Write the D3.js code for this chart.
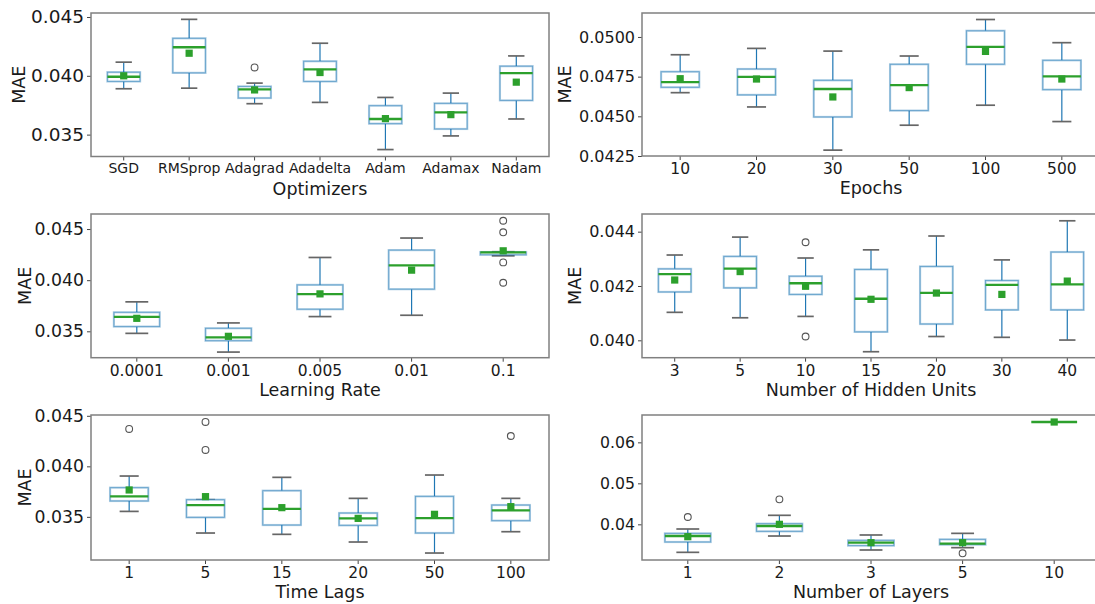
<!DOCTYPE html>
<html>
<head>
<meta charset="utf-8">
<script src="https://cdn.jsdelivr.net/npm/d3@7"></script>
<style>
  body { margin: 0; background: #fff; }
  svg { display: block; font-family: "DejaVu Sans", sans-serif; }
</style>
</head>
<body>
<div class="fig"></div>
<script>
// each stats row: [low whisker, q1, median, q3, high whisker, mean]
const optimizers = ['SGD', 'RMSprop', 'Adagrad', 'Adadelta', 'Adam', 'Adamax', 'Nadam']
const optimizerStats = [
    [0.03890, 0.03952, 0.03992, 0.04031, 0.04116, 0.04000],
    [0.03895, 0.04025, 0.04243, 0.04319, 0.04480, 0.04192],
    [0.03763, 0.03811, 0.03884, 0.03910, 0.03938, 0.03880],
    [0.03774, 0.03952, 0.04054, 0.04124, 0.04277, 0.04028],
    [0.03373, 0.03593, 0.03633, 0.03746, 0.03816, 0.03636],
    [0.03489, 0.03548, 0.03689, 0.03766, 0.03853, 0.03670],
    [0.03633, 0.03791, 0.04023, 0.04082, 0.04169, 0.03946]
]
const optimizerFliers = [[], [], [0.04071], [], [], [], []]
const optimizerTicks = [0.035, 0.040, 0.045]

const epochs = ['10', '20', '30', '50', '100', '500']
const epochStats = [
    [0.04649, 0.04683, 0.04716, 0.04781, 0.04888, 0.04737],
    [0.04559, 0.04635, 0.04748, 0.04798, 0.04928, 0.04735],
    [0.04287, 0.04496, 0.04672, 0.04727, 0.04911, 0.04622],
    [0.04444, 0.04536, 0.04696, 0.04828, 0.04880, 0.04681],
    [0.04570, 0.04828, 0.04937, 0.05039, 0.05110, 0.04909],
    [0.04467, 0.04668, 0.04752, 0.04853, 0.04964, 0.04735]
]
const epochFliers = [[], [], [], [], [], []]
const epochTicks = [0.0425, 0.0450, 0.0475, 0.0500]

const learningRates = ['0.0001', '0.001', '0.005', '0.01', '0.1']
const learningRateStats = [
    [0.03480, 0.03546, 0.03641, 0.03686, 0.03788, 0.03627],
    [0.03297, 0.03408, 0.03441, 0.03530, 0.03582, 0.03451],
    [0.03644, 0.03716, 0.03863, 0.03954, 0.04222, 0.03866],
    [0.03657, 0.03912, 0.04144, 0.04294, 0.04412, 0.04098],
    [0.04238, 0.04248, 0.04272, 0.04275, 0.04278, 0.04287]
]
const learningRateFliers = [[], [], [], [], [0.04581, 0.04468, 0.04174, 0.03975]]
const learningRateTicks = [0.035, 0.040, 0.045]

const hiddenUnits = ['3', '5', '10', '15', '20', '30', '40']
const hiddenUnitStats = [
    [0.04103, 0.04178, 0.04244, 0.04263, 0.04314, 0.04222],
    [0.04083, 0.04193, 0.04264, 0.04309, 0.04380, 0.04253],
    [0.04088, 0.04169, 0.04210, 0.04236, 0.04303, 0.04199],
    [0.03958, 0.04031, 0.04153, 0.04261, 0.04333, 0.04151],
    [0.04014, 0.04060, 0.04175, 0.04272, 0.04384, 0.04174],
    [0.04011, 0.04112, 0.04204, 0.04220, 0.04296, 0.04169],
    [0.04001, 0.04112, 0.04206, 0.04325, 0.04440, 0.04218]
]
const hiddenUnitFliers = [[], [], [0.04361, 0.04014], [], [], [], []]
const hiddenUnitTicks = [0.040, 0.042, 0.044]

const timeLags = ['1', '5', '15', '20', '50', '100']
const timeLagStats = [
    [0.03554, 0.03657, 0.03703, 0.03789, 0.03904, 0.03766],
    [0.03340, 0.03495, 0.03617, 0.03670, 0.03670, 0.03700],
    [0.03327, 0.03419, 0.03578, 0.03759, 0.03891, 0.03591],
    [0.03251, 0.03416, 0.03485, 0.03538, 0.03683, 0.03485],
    [0.03142, 0.03340, 0.03488, 0.03703, 0.03914, 0.03525],
    [0.03353, 0.03462, 0.03564, 0.03617, 0.03683, 0.03601]
]
const timeLagFliers = [[0.04370], [0.04439, 0.04162], [], [], [], [0.04300]]
const timeLagTicks = [0.035, 0.040, 0.045]

const layers = ['1', '2', '3', '5', '10']
const layerStats = [
    [0.03317, 0.03569, 0.03715, 0.03780, 0.03886, 0.03699],
    [0.03715, 0.03829, 0.03959, 0.04016, 0.04220, 0.04000],
    [0.03374, 0.03480, 0.03553, 0.03610, 0.03740, 0.03553],
    [0.03431, 0.03504, 0.03528, 0.03634, 0.03780, 0.03553],
    [0.06496, 0.06496, 0.06496, 0.06496, 0.06496, 0.06496]
]
const layerFliers = [[0.04179], [0.04610], [], [0.03293], []]
const layerTicks = [0.04, 0.05, 0.06]

const blue = '#1f77b4'
const green = '#2ca02c'

const svg = d3.select('.fig')
    .append('svg')
    .attr('width', 1095)
    .attr('height', 604)

const panels = [
    { cats: optimizers, stats: optimizerStats, fliers: optimizerFliers, ticks: optimizerTicks, fmt: '.3f',
      x0: 91, x1: 549, y0: 13, y1: 156.5, domain: [0.03314, 0.04534], xlabel: 'Optimizers', ylabel: 'MAE', ylx: 19,
      yfont: 18.5, xfont: 14 },
    { cats: epochs, stats: epochStats, fliers: epochFliers, ticks: epochTicks, fmt: '.4f',
      x0: 642, x1: 1100, y0: 13, y1: 156, domain: [0.0425, 0.05151], xlabel: 'Epochs', ylabel: 'MAE', ylx: 565,
      yfont: 16, xfont: 15.5 },
    { cats: learningRates, stats: learningRateStats, fliers: learningRateFliers, ticks: learningRateTicks, fmt: '.3f',
      x0: 91, x1: 549, y0: 214, y1: 357.7, domain: [0.03242, 0.04647], xlabel: 'Learning Rate', ylabel: 'MAE', ylx: 25,
      yfont: 17.3, xfont: 15.5 },
    { cats: hiddenUnits, stats: hiddenUnitStats, fliers: hiddenUnitFliers, ticks: hiddenUnitTicks, fmt: '.3f',
      x0: 642, x1: 1100, y0: 214, y1: 357.7, domain: [0.03936, 0.04465], xlabel: 'Number of Hidden Units', ylabel: 'MAE', ylx: 575,
      yfont: 16, xfont: 15.5 },
    { cats: timeLags, stats: timeLagStats, fliers: timeLagFliers, ticks: timeLagTicks, fmt: '.3f',
      x0: 91, x1: 549, y0: 415, y1: 560, domain: [0.03073, 0.04508], xlabel: 'Time Lags', ylabel: 'MAE', ylx: 25,
      yfont: 17.3, xfont: 15.5 },
    { cats: layers, stats: layerStats, fliers: layerFliers, ticks: layerTicks, fmt: '.2f',
      x0: 642, x1: 1100, y0: 415, y1: 560, domain: [0.0313, 0.06667], xlabel: 'Number of Layers', ylabel: null, ylx: 0,
      yfont: 15.7, xfont: 15.5 }
]

panels.forEach(drawPanel)

function drawPanel(p) {
    const xScale = d3.scaleBand().domain(p.cats).range([p.x0, p.x1])
    const yScale = d3.scaleLinear().domain(p.domain).range([p.y1, p.y0])
    const bw = xScale.bandwidth() * 0.5
    const cx = (c) => xScale(c) + xScale.bandwidth() / 2

    const g = svg.append('g')

    // axes
    const xAxis = d3.axisBottom(xScale).tickSize(4).tickPadding(3)
    const yAxis = d3.axisLeft(yScale).tickValues(p.ticks).tickFormat(d3.format(p.fmt)).tickSize(4).tickPadding(3)

    const gx = g.append('g').attr('transform', `translate(0, ${p.y1})`).call(xAxis)
    gx.selectAll('text').style('font-size', p.xfont + 'px').attr('fill', '#1a1a1a')
    const gy = g.append('g').attr('transform', `translate(${p.x0}, 0)`).call(yAxis)
    gy.selectAll('text').style('font-size', p.yfont + 'px').attr('fill', '#1a1a1a')
    g.selectAll('.domain').remove()
    g.selectAll('.tick line').attr('stroke', '#444').attr('stroke-width', 1)
    g.selectAll('.tick text').attr('font-family', '"DejaVu Sans", sans-serif')

    g.append('text')
        .attr('x', (p.x0 + p.x1) / 2)
        .attr('y', p.y1 + 38)
        .attr('text-anchor', 'middle')
        .style('font-size', '17.5px')
        .attr('fill', '#1a1a1a')
        .text(p.xlabel)

    if (p.ylabel) {
        g.append('text')
            .attr('transform', `translate(${p.ylx + 6}, ${(p.y0 + p.y1) / 2}) rotate(-90)`)
            .attr('text-anchor', 'middle')
            .style('font-size', '17.5px')
            .attr('fill', '#1a1a1a')
            .text(p.ylabel)
    }

    const boxes = g.selectAll('.box')
        .data(p.cats.map((c, i) => ({ cat: c, s: p.stats[i], fl: p.fliers[i] })))
        .enter()
        .append('g')

    // whiskers
    boxes.append('line')
        .attr('x1', (d) => cx(d.cat)).attr('x2', (d) => cx(d.cat))
        .attr('y1', (d) => yScale(d.s[0])).attr('y2', (d) => yScale(d.s[1]))
        .attr('stroke', blue).attr('stroke-width', 1.2)
    boxes.append('line')
        .attr('x1', (d) => cx(d.cat)).attr('x2', (d) => cx(d.cat))
        .attr('y1', (d) => yScale(d.s[3])).attr('y2', (d) => yScale(d.s[4]))
        .attr('stroke', blue).attr('stroke-width', 1.2)

    // caps
    boxes.selectAll('.cap')
        .data((d) => [[d.cat, d.s[0]], [d.cat, d.s[4]]])
        .enter()
        .append('line')
        .attr('x1', (d) => cx(d[0]) - bw / 4).attr('x2', (d) => cx(d[0]) + bw / 4)
        .attr('y1', (d) => yScale(d[1])).attr('y2', (d) => yScale(d[1]))
        .attr('stroke', '#666').attr('stroke-width', 1.7)

    // box body
    boxes.append('rect')
        .attr('x', (d) => cx(d.cat) - bw / 2)
        .attr('y', (d) => yScale(d.s[3]))
        .attr('width', bw)
        .attr('height', (d) => yScale(d.s[1]) - yScale(d.s[3]))
        .attr('fill', '#fff')
        .attr('stroke', blue)
        .attr('stroke-opacity', 0.35)
        .attr('stroke-width', 2.2)
    boxes.append('rect')
        .attr('x', (d) => cx(d.cat) - bw / 2)
        .attr('y', (d) => yScale(d.s[3]))
        .attr('width', bw)
        .attr('height', (d) => yScale(d.s[1]) - yScale(d.s[3]))
        .attr('fill', 'none')
        .attr('stroke', blue)
        .attr('stroke-opacity', 0.55)
        .attr('stroke-width', 0.8)

    // median
    boxes.append('line')
        .attr('x1', (d) => cx(d.cat) - bw / 2).attr('x2', (d) => cx(d.cat) + bw / 2)
        .attr('y1', (d) => yScale(d.s[2])).attr('y2', (d) => yScale(d.s[2]))
        .attr('stroke', green).attr('stroke-width', 2.3)

    // mean marker
    boxes.append('rect')
        .attr('x', (d) => cx(d.cat) - 3.6)
        .attr('y', (d) => yScale(d.s[5]) - 3.6)
        .attr('width', 7.2).attr('height', 7.2)
        .attr('fill', green)

    // fliers
    boxes.selectAll('.flier')
        .data((d) => d.fl.map((v) => [d.cat, v]))
        .enter()
        .append('circle')
        .attr('cx', (d) => cx(d[0]))
        .attr('cy', (d) => yScale(d[1]))
        .attr('r', 3.4)
        .attr('fill', 'none')
        .attr('stroke', '#555')
        .attr('stroke-width', 1.1)

    // frame
    g.append('rect')
        .attr('x', p.x0).attr('y', p.y0)
        .attr('width', p.x1 - p.x0).attr('height', p.y1 - p.y0)
        .attr('fill', 'none')
        .attr('stroke', '#808080')
        .attr('stroke-width', 1.5)
}
</script>
</body>
</html>
